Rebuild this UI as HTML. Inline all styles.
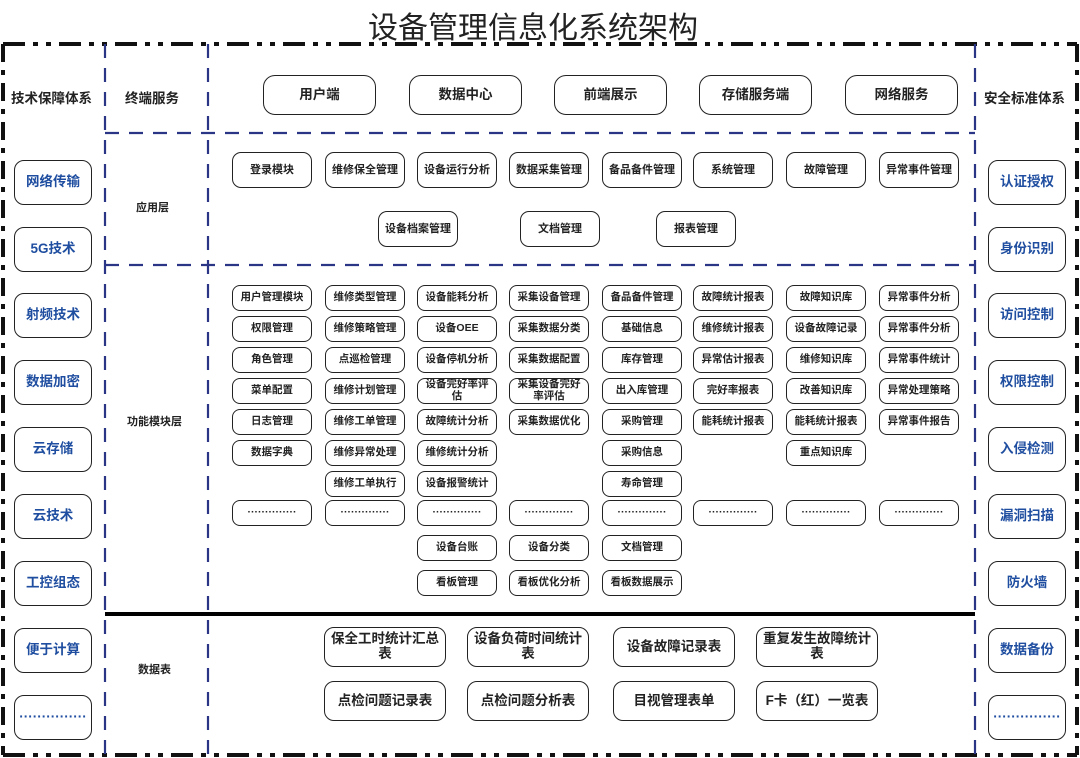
<!DOCTYPE html>
<html><head><meta charset="utf-8"><style>
body{margin:0;width:1080px;height:758px;background:#fff;position:relative;overflow:hidden;font-family:"Liberation Sans","Noto Sans CJK SC",sans-serif}
.b{position:absolute;box-sizing:border-box;border:1.5px solid #222;border-radius:9px;display:flex;align-items:center;justify-content:center;text-align:center;font-weight:bold;color:#222;line-height:1.1}
.f{font-size:10.5px;height:26px;width:80px;border-radius:8px;padding:0 5px}
.a{font-size:11px;height:36px;width:80px}
.s{left:14px;width:78px;height:45px;font-size:13.5px;color:#1f4ea0;border-radius:10px}
.r{left:988px}
.t{font-size:13.5px;height:40px;width:113px;border-radius:12px}
.d{font-size:13.5px;height:40px;width:122px;border-radius:10px;padding:0 6px}
.l{position:absolute;font-weight:bold;font-size:13.5px;color:#222;white-space:nowrap}
</style></head><body>
<div style="position:absolute;left:0;width:1080px;top:3px;text-align:center;font-size:30px;color:#222"><span style="position:relative;left:-7px">设备管理信息化系统架构</span></div>
<svg width="1080" height="758" style="position:absolute;left:0;top:0">
<g stroke="#111" stroke-width="4" fill="none">
<path d="M3 44H1077" stroke-dasharray="22 8 5 8 5 8"/>
<path d="M3 755H1077" stroke-dasharray="22 8 5 8 5 8"/>
<path d="M3 44V755" stroke-dasharray="18 8 5 8"/>
<path d="M1077 44V755" stroke-dasharray="18 8 5 8"/>
</g>
<g stroke="#2b3585" stroke-width="2.2" fill="none" stroke-dasharray="14 10">
<path d="M105 44V755"/><path d="M208 44V755"/><path d="M975 44V755"/>
<path d="M105 133H975"/><path d="M105 265H975"/>
</g>
<path d="M105 614H975" stroke="#000" stroke-width="4"/>
</svg>
<div class="l" style="left:11px;top:87px">技术保障体系</div>
<div class="l" style="left:125px;top:87px">终端服务</div>
<div class="l" style="left:136px;top:199px;font-size:11px">应用层</div>
<div class="l" style="left:127px;top:413px;font-size:11px">功能模块层</div>
<div class="l" style="left:138px;top:661px;font-size:11px">数据表</div>
<div class="l" style="left:984px;top:87px">安全标准体系</div>

<div class="b s" style="top:160px">网络传输</div>
<div class="b s" style="top:227px">5G技术</div>
<div class="b s" style="top:293px">射频技术</div>
<div class="b s" style="top:360px">数据加密</div>
<div class="b s" style="top:427px">云存储</div>
<div class="b s" style="top:494px">云技术</div>
<div class="b s" style="top:561px">工控组态</div>
<div class="b s" style="top:628px">便于计算</div>
<div class="b s" style="top:695px">···············</div>
<div class="b s r" style="top:160px">认证授权</div>
<div class="b s r" style="top:227px">身份识别</div>
<div class="b s r" style="top:293px">访问控制</div>
<div class="b s r" style="top:360px">权限控制</div>
<div class="b s r" style="top:427px">入侵检测</div>
<div class="b s r" style="top:494px">漏洞扫描</div>
<div class="b s r" style="top:561px">防火墙</div>
<div class="b s r" style="top:628px">数据备份</div>
<div class="b s r" style="top:695px">···············</div>

<div class="b t" style="left:263px;top:75px">用户端</div>
<div class="b t" style="left:409px;top:75px">数据中心</div>
<div class="b t" style="left:554px;top:75px">前端展示</div>
<div class="b t" style="left:699px;top:75px">存储服务端</div>
<div class="b t" style="left:845px;top:75px">网络服务</div>

<div class="b a" style="left:232px;top:152px">登录模块</div>
<div class="b a" style="left:325px;top:152px">维修保全管理</div>
<div class="b a" style="left:417px;top:152px">设备运行分析</div>
<div class="b a" style="left:509px;top:152px">数据采集管理</div>
<div class="b a" style="left:602px;top:152px">备品备件管理</div>
<div class="b a" style="left:693px;top:152px">系统管理</div>
<div class="b a" style="left:786px;top:152px">故障管理</div>
<div class="b a" style="left:879px;top:152px">异常事件管理</div>
<div class="b a" style="left:378px;top:211px">设备档案管理</div>
<div class="b a" style="left:520px;top:211px">文档管理</div>
<div class="b a" style="left:656px;top:211px">报表管理</div>

<div class="b f" style="left:232px;top:285px">用户管理模块</div>
<div class="b f" style="left:232px;top:316px">权限管理</div>
<div class="b f" style="left:232px;top:347px">角色管理</div>
<div class="b f" style="left:232px;top:378px">菜单配置</div>
<div class="b f" style="left:232px;top:409px">日志管理</div>
<div class="b f" style="left:232px;top:440px">数据字典</div>
<div class="b f" style="left:232px;top:500px">··············</div>
<div class="b f" style="left:325px;top:285px">维修类型管理</div>
<div class="b f" style="left:325px;top:316px">维修策略管理</div>
<div class="b f" style="left:325px;top:347px">点巡检管理</div>
<div class="b f" style="left:325px;top:378px">维修计划管理</div>
<div class="b f" style="left:325px;top:409px">维修工单管理</div>
<div class="b f" style="left:325px;top:440px">维修异常处理</div>
<div class="b f" style="left:325px;top:471px">维修工单执行</div>
<div class="b f" style="left:325px;top:500px">··············</div>
<div class="b f" style="left:417px;top:285px">设备能耗分析</div>
<div class="b f" style="left:417px;top:316px">设备OEE</div>
<div class="b f" style="left:417px;top:347px">设备停机分析</div>
<div class="b f" style="left:417px;top:378px">设备完好率评估</div>
<div class="b f" style="left:417px;top:409px">故障统计分析</div>
<div class="b f" style="left:417px;top:440px">维修统计分析</div>
<div class="b f" style="left:417px;top:471px">设备报警统计</div>
<div class="b f" style="left:417px;top:500px">··············</div>
<div class="b f" style="left:417px;top:535px">设备台账</div>
<div class="b f" style="left:417px;top:570px">看板管理</div>
<div class="b f" style="left:509px;top:285px">采集设备管理</div>
<div class="b f" style="left:509px;top:316px">采集数据分类</div>
<div class="b f" style="left:509px;top:347px">采集数据配置</div>
<div class="b f" style="left:509px;top:378px">采集设备完好率评估</div>
<div class="b f" style="left:509px;top:409px">采集数据优化</div>
<div class="b f" style="left:509px;top:500px">··············</div>
<div class="b f" style="left:509px;top:535px">设备分类</div>
<div class="b f" style="left:509px;top:570px">看板优化分析</div>
<div class="b f" style="left:602px;top:285px">备品备件管理</div>
<div class="b f" style="left:602px;top:316px">基础信息</div>
<div class="b f" style="left:602px;top:347px">库存管理</div>
<div class="b f" style="left:602px;top:378px">出入库管理</div>
<div class="b f" style="left:602px;top:409px">采购管理</div>
<div class="b f" style="left:602px;top:440px">采购信息</div>
<div class="b f" style="left:602px;top:471px">寿命管理</div>
<div class="b f" style="left:602px;top:500px">··············</div>
<div class="b f" style="left:602px;top:535px">文档管理</div>
<div class="b f" style="left:602px;top:570px">看板数据展示</div>
<div class="b f" style="left:693px;top:285px">故障统计报表</div>
<div class="b f" style="left:693px;top:316px">维修统计报表</div>
<div class="b f" style="left:693px;top:347px">异常估计报表</div>
<div class="b f" style="left:693px;top:378px">完好率报表</div>
<div class="b f" style="left:693px;top:409px">能耗统计报表</div>
<div class="b f" style="left:693px;top:500px">··············</div>
<div class="b f" style="left:786px;top:285px">故障知识库</div>
<div class="b f" style="left:786px;top:316px">设备故障记录</div>
<div class="b f" style="left:786px;top:347px">维修知识库</div>
<div class="b f" style="left:786px;top:378px">改善知识库</div>
<div class="b f" style="left:786px;top:409px">能耗统计报表</div>
<div class="b f" style="left:786px;top:440px">重点知识库</div>
<div class="b f" style="left:786px;top:500px">··············</div>
<div class="b f" style="left:879px;top:285px">异常事件分析</div>
<div class="b f" style="left:879px;top:316px">异常事件分析</div>
<div class="b f" style="left:879px;top:347px">异常事件统计</div>
<div class="b f" style="left:879px;top:378px">异常处理策略</div>
<div class="b f" style="left:879px;top:409px">异常事件报告</div>
<div class="b f" style="left:879px;top:500px">··············</div>

<div class="b d" style="left:324px;top:627px">保全工时统计汇总表</div>
<div class="b d" style="left:467px;top:627px">设备负荷时间统计表</div>
<div class="b d" style="left:613px;top:627px">设备故障记录表</div>
<div class="b d" style="left:756px;top:627px">重复发生故障统计表</div>
<div class="b d" style="left:324px;top:681px">点检问题记录表</div>
<div class="b d" style="left:467px;top:681px">点检问题分析表</div>
<div class="b d" style="left:613px;top:681px">目视管理表单</div>
<div class="b d" style="left:756px;top:681px">F卡（红）一览表</div>
</body></html>
